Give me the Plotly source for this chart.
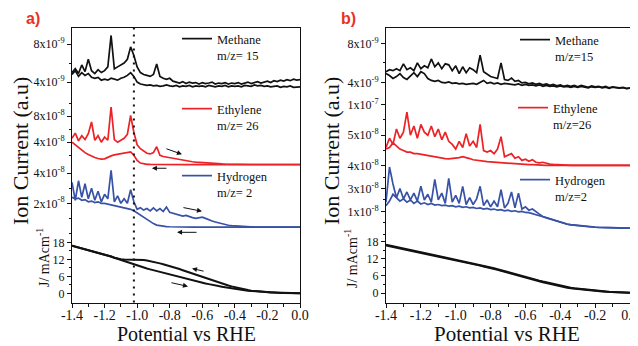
import plotly.graph_objects as go

# ---------------- data ----------------
potential_v = [-1.40, -1.38, -1.36, -1.34, -1.32, -1.30, -1.28, -1.26, -1.24, -1.22,
               -1.20, -1.18, -1.16, -1.14, -1.12, -1.10, -1.08, -1.06, -1.04, -1.02,
               -1.00, -0.98, -0.96, -0.94, -0.92, -0.90, -0.88, -0.86, -0.84, -0.82,
               -0.80, -0.78, -0.76, -0.74, -0.72, -0.70, -0.68, -0.66, -0.64, -0.62,
               -0.60, -0.58, -0.56, -0.54, -0.52, -0.50, -0.48, -0.46, -0.44, -0.42,
               -0.40, -0.38, -0.36, -0.34, -0.32, -0.30, -0.28, -0.26, -0.24, -0.22,
               -0.20, -0.18, -0.16, -0.14, -0.12, -0.10, -0.08, -0.06, -0.04, -0.02,
               0.00]

# panel a  (methane in 1e-9, ethylene / hydrogen in 1e-8, J in mA cm^-2)
methane_a_anodic = [5.0, 5.4, 4.9, 5.8, 5.1, 6.4, 5.2, 4.9, 5.3, 5.0,
                    5.2, 5.6, 8.9, 5.4, 5.6, 5.8, 6.0, 6.4, 7.7, 6.8,
                    5.6, 5.0, 4.8, 4.7, 4.6, 4.8, 5.9, 4.6, 4.4, 4.3,
                    4.4, 4.1, 4.0, 3.9, 4.05, 3.85, 4.0, 3.9, 3.95, 3.8,
                    3.95, 3.85, 3.9, 4.0, 3.8, 3.9, 3.85, 3.95, 3.8, 3.9,
                    3.85, 3.95, 3.8, 3.9, 4.0, 3.85, 3.95, 4.05, 3.9, 4.0,
                    4.1, 3.95, 4.15, 4.05, 4.2, 4.1, 4.25, 4.15, 4.3, 4.2,
                    4.25]
methane_a_cathodic = [4.8, 5.2, 4.6, 5.0, 4.7, 4.9, 4.5, 4.4, 4.5, 4.2,
                      4.3, 4.2, 4.4, 4.3, 4.2, 4.4, 4.5, 4.7, 5.0, 4.6,
                      4.0, 3.8, 3.7, 3.65, 3.7, 3.6, 3.65, 3.55, 3.6, 3.7,
                      3.6, 3.55, 3.65, 3.5, 3.6, 3.55, 3.65, 3.5, 3.6, 3.55,
                      3.6, 3.5, 3.65, 3.55, 3.5, 3.6, 3.55, 3.65, 3.5, 3.6,
                      3.55, 3.6, 3.5, 3.65, 3.6, 3.55, 3.7, 3.6, 3.65, 3.55,
                      3.6, 3.5, 3.55, 3.6, 3.45, 3.55, 3.5, 3.6, 3.45, 3.5,
                      3.5]
ethylene_a_anodic = [4.6, 5.4, 4.2, 5.0, 4.4, 5.3, 7.1, 4.3, 5.0, 4.0,
                     4.8, 4.3, 9.4, 4.4, 4.0, 4.3, 4.6, 5.2, 8.1, 5.5,
                     3.6, 3.0, 2.6, 2.3, 2.2, 2.4, 3.3, 2.0, 1.8, 1.7,
                     1.6, 1.5, 1.4, 1.3, 1.2, 1.15, 1.1, 1.0, 0.95, 0.9,
                     0.85, 0.8, 0.77, 0.74, 0.71, 0.68, 0.66, 0.64, 0.62, 0.61,
                     0.6, 0.59, 0.59, 0.58, 0.58, 0.58, 0.58, 0.58, 0.58, 0.58,
                     0.58, 0.58, 0.58, 0.58, 0.58, 0.58, 0.58, 0.58, 0.58, 0.58,
                     0.58]
ethylene_a_cathodic = [4.0, 3.6, 3.1, 2.7, 2.4, 2.1, 1.85, 1.65, 1.5, 1.4,
                       1.45, 1.7, 1.9, 2.05, 2.15, 2.25, 2.35, 2.45, 2.5, 2.0,
                       1.2, 0.8, 0.66, 0.61, 0.59, 0.58, 0.58, 0.57, 0.57, 0.57,
                       0.57, 0.57, 0.57, 0.57, 0.57, 0.57, 0.57, 0.57, 0.57, 0.57,
                       0.57, 0.57, 0.57, 0.57, 0.57, 0.57, 0.57, 0.57, 0.57, 0.57,
                       0.57, 0.57, 0.57, 0.57, 0.57, 0.57, 0.57, 0.57, 0.57, 0.57,
                       0.57, 0.57, 0.57, 0.57, 0.57, 0.57, 0.57, 0.57, 0.57, 0.57,
                       0.57]
hydrogen_a_anodic = [3.4, 2.2, 3.5, 2.4, 3.3, 2.3, 3.0, 2.2, 2.8, 2.1,
                     2.6, 2.3, 4.2, 2.1, 2.5, 2.0, 2.3, 2.0, 2.9, 2.1,
                     1.6, 1.7, 1.55, 1.65, 1.5, 1.7, 1.5, 1.65, 1.45, 1.75,
                     1.4, 1.35, 1.25, 1.2, 1.15, 1.2, 1.1, 1.05, 1.0, 1.05,
                     1.08, 1.0, 0.9, 0.82, 0.76, 0.7, 0.64, 0.58, 0.54, 0.52,
                     0.5, 0.48, 0.46, 0.44, 0.43, 0.42, 0.42, 0.42, 0.42, 0.42,
                     0.42, 0.42, 0.42, 0.42, 0.42, 0.42, 0.42, 0.42, 0.42, 0.42,
                     0.42]
hydrogen_a_cathodic = [2.4, 2.3, 2.35, 2.2, 2.25, 2.1, 2.15, 2.05, 2.1, 2.0,
                       2.0, 1.95, 1.95, 1.9, 1.85, 1.8, 1.75, 1.7, 1.6, 1.5,
                       1.35, 1.2, 1.05, 0.9, 0.78, 0.65, 0.55, 0.5, 0.47, 0.45,
                       0.44, 0.43, 0.42, 0.42, 0.42, 0.42, 0.42, 0.42, 0.42, 0.42,
                       0.42, 0.42, 0.42, 0.42, 0.42, 0.42, 0.42, 0.42, 0.42, 0.42,
                       0.42, 0.42, 0.42, 0.42, 0.42, 0.42, 0.42, 0.42, 0.42, 0.42,
                       0.42, 0.42, 0.42, 0.42, 0.42, 0.42, 0.42, 0.42, 0.42, 0.42,
                       0.42]
current_a_cathodic = [16.8, 16.5, 16.2, 15.9, 15.6, 15.3, 15.0, 14.7, 14.4, 14.1,
                      13.8, 13.4, 13.0, 12.6, 12.2, 11.8, 11.4, 11.0, 10.6, 10.2,
                      9.9, 9.5, 9.2, 8.8, 8.5, 8.2, 7.8, 7.5, 7.2, 6.9,
                      6.6, 6.3, 6.0, 5.7, 5.4, 5.1, 4.8, 4.6, 4.3, 4.0,
                      3.8, 3.5, 3.3, 3.0, 2.8, 2.6, 2.4, 2.2, 2.0, 1.8,
                      1.6, 1.45, 1.3, 1.15, 1.0, 0.9, 0.8, 0.7, 0.6, 0.5,
                      0.4, 0.35, 0.3, 0.25, 0.2, 0.18, 0.15, 0.13, 0.12, 0.11,
                      0.1]
current_a_anodic = [16.8, 16.5, 16.2, 15.9, 15.6, 15.3, 15.0, 14.7, 14.4, 14.1,
                    13.8, 13.4, 13.0, 12.6, 12.3, 12.1, 12.0, 12.0, 12.0, 12.0,
                    12.0, 11.9, 11.8, 11.6, 11.4, 11.2, 10.9, 10.6, 10.3, 10.0,
                    9.7, 9.3, 9.0, 8.6, 8.2, 7.8, 7.4, 7.0, 6.6, 6.2,
                    5.8, 5.4, 5.0, 4.6, 4.2, 3.8, 3.4, 3.1, 2.8, 2.5,
                    2.2, 1.9, 1.65, 1.4, 1.2, 1.0, 0.85, 0.7, 0.6, 0.5,
                    0.4, 0.35, 0.3, 0.25, 0.2, 0.18, 0.15, 0.13, 0.12, 0.11,
                    0.1]

# panel b
methane_b_anodic = [5.1, 5.3, 5.2, 5.4, 5.2, 5.9, 5.3, 5.5, 5.2, 6.0,
                    5.4, 5.7, 5.5, 6.4, 5.6, 6.0, 5.4, 5.9, 5.8, 5.2,
                    5.7, 4.9, 5.6, 5.0, 5.5, 5.3, 5.0, 6.8, 5.1, 4.8,
                    4.6, 4.5, 4.4, 6.0, 4.3, 4.2, 4.45, 4.1, 4.2, 3.95,
                    4.0, 3.85, 3.95, 3.8, 3.9, 3.75, 3.85, 3.7, 3.8, 3.65,
                    3.75, 3.6, 3.7, 3.6, 3.7, 3.55, 3.7, 3.6, 3.5, 3.65,
                    3.55, 3.6, 3.5, 3.6, 3.45, 3.55, 3.5, 3.45, 3.5, 3.4,
                    3.45]
methane_b_cathodic = [4.9, 4.7, 4.4, 4.6, 4.9, 4.5, 4.3, 4.7, 5.0, 4.6,
                      5.1, 4.9, 4.4, 4.2, 4.1, 4.2, 4.0, 3.95, 4.05, 3.9,
                      3.95, 3.85, 3.9, 3.8, 3.85, 3.9, 3.8, 4.0, 4.2, 3.9,
                      4.0, 3.85, 3.95, 3.8, 3.9, 3.85, 3.8, 3.75, 3.85, 3.7,
                      3.8, 3.7, 3.75, 3.65, 3.75, 3.6, 3.7, 3.6, 3.65, 3.55,
                      3.65, 3.55, 3.6, 3.5, 3.6, 3.5, 3.6, 3.5, 3.45, 3.55,
                      3.5, 3.55, 3.45, 3.5, 3.4, 3.5, 3.45, 3.4, 3.45, 3.35,
                      3.4]
ethylene_b_anodic = [4.6, 4.9, 4.7, 5.2, 4.9, 5.1, 5.75, 5.0, 5.3, 4.9,
                     5.35, 5.1, 5.0, 5.3, 4.95, 5.2, 4.85, 5.1, 4.8, 4.7,
                     4.55, 4.8, 4.6, 5.05, 4.65, 4.8, 4.6, 5.35, 4.5, 4.45,
                     4.5, 4.4, 4.55, 4.95, 4.3, 4.35, 4.4, 4.25, 4.3, 4.18,
                     4.22, 4.15, 4.2, 4.12, 4.1, 4.12, 4.08, 4.06, 4.05, 4.04,
                     4.04, 4.03, 4.03, 4.02, 4.02, 4.02, 4.02, 4.02, 4.02, 4.02,
                     4.02, 4.02, 4.02, 4.02, 4.02, 4.02, 4.02, 4.02, 4.02, 4.02,
                     4.02]
ethylene_b_cathodic = [4.55, 4.6, 4.75, 4.65, 4.55, 4.5, 4.45, 4.45, 4.4, 4.4,
                       4.38, 4.35, 4.32, 4.3, 4.28, 4.26, 4.25, 4.24, 4.23, 4.24,
                       4.25, 4.27, 4.3, 4.28, 4.24, 4.2, 4.18, 4.16, 4.15, 4.14,
                       4.13, 4.12, 4.11, 4.1, 4.1, 4.09, 4.08, 4.07, 4.06, 4.05,
                       4.05, 4.04, 4.04, 4.03, 4.03, 4.03, 4.02, 4.02, 4.02, 4.02,
                       4.02, 4.02, 4.02, 4.02, 4.02, 4.02, 4.02, 4.02, 4.02, 4.02,
                       4.02, 4.02, 4.02, 4.02, 4.02, 4.02, 4.02, 4.02, 4.02, 4.02,
                       4.02]
hydrogen_b_anodic = [1.8, 4.9, 3.4, 2.2, 3.0, 2.1, 2.7, 2.0, 2.6, 1.9,
                     3.2, 2.0, 2.5, 1.8, 3.8, 2.0, 2.6, 1.7, 3.9, 1.8,
                     2.4, 1.7, 3.2, 1.6, 2.2, 1.6, 2.1, 3.2, 1.5, 2.0,
                     1.4, 1.9, 1.4, 2.9, 1.3, 1.7, 2.7, 1.3, 2.6, 1.2,
                     1.4, 1.1, 1.2, 0.95, 0.75, 0.55, 0.45, 0.35, 0.25, 0.15,
                     0.05, -0.05, -0.12, -0.17, -0.21, -0.25, -0.29, -0.32, -0.35, -0.37,
                     -0.39, -0.41, -0.42, -0.43, -0.44, -0.45, -0.46, -0.46, -0.47, -0.47,
                     -0.47]
hydrogen_b_cathodic = [1.5, 1.9, 2.5, 2.2, 1.9, 2.1, 1.8, 2.0, 1.7, 1.9,
                       1.65, 1.75, 1.6, 1.7, 1.55, 1.6, 1.5, 1.55, 1.45, 1.5,
                       1.4, 1.45, 1.35, 1.4, 1.3, 1.35, 1.25, 1.3, 1.2, 1.25,
                       1.15, 1.2, 1.1, 1.15, 1.05, 1.1, 1.0, 1.05, 0.95, 1.0,
                       0.9, 0.88, 0.8, 0.72, 0.65, 0.52, 0.42, 0.32, 0.22, 0.12,
                       0.02, -0.07, -0.14, -0.19, -0.23, -0.27, -0.3, -0.34, -0.36, -0.38,
                       -0.4, -0.42, -0.43, -0.44, -0.45, -0.46, -0.46, -0.47, -0.47, -0.48,
                       -0.48]
current_b_cathodic = [16.6, 16.35, 16.1, 15.8, 15.55, 15.3, 15.05, 14.8, 14.5, 14.25,
                      14.0, 13.75, 13.5, 13.2, 12.95, 12.7, 12.45, 12.2, 11.9, 11.65,
                      11.4, 11.15, 10.9, 10.6, 10.35, 10.1, 9.85, 9.6, 9.3, 9.05,
                      8.8, 8.45, 8.1, 7.75, 7.4, 7.05, 6.7, 6.35, 6.0, 5.65,
                      5.3, 5.0, 4.7, 4.4, 4.1, 3.8, 3.5, 3.2, 2.9, 2.6,
                      2.3, 2.1, 1.9, 1.7, 1.55, 1.4, 1.25, 1.1, 1.0, 0.9,
                      0.8, 0.7, 0.6, 0.5, 0.42, 0.35, 0.28, 0.22, 0.17, 0.13,
                      0.1]
current_b_anodic = [16.9, 16.6, 16.3, 16.05, 15.8, 15.55, 15.3, 15.05, 14.8, 14.5,
                    14.25, 14.0, 13.75, 13.45, 13.2, 12.95, 12.7, 12.45, 12.15, 11.9,
                    11.65, 11.4, 11.15, 10.85, 10.6, 10.35, 10.1, 9.85, 9.55, 9.3,
                    9.05, 8.7, 8.35, 8.0, 7.65, 7.3, 6.95, 6.6, 6.25, 5.9,
                    5.55, 5.25, 4.95, 4.65, 4.35, 4.05, 3.75, 3.45, 3.15, 2.85,
                    2.55, 2.3, 2.1, 1.9, 1.7, 1.55, 1.4, 1.25, 1.1, 1.0,
                    0.85, 0.75, 0.65, 0.55, 0.45, 0.37, 0.3, 0.23, 0.18, 0.13,
                    0.1]

species_names = ["Methane", "Ethylene", "Hydrogen"]
mz_labels_a = ["m/z= 15", "m/z= 26", "m/z= 2"]
mz_labels_b = ["m/z=15", "m/z=26", "m/z=2"]

x_tick_vals = [-1.4, -1.2, -1.0, -0.8, -0.6, -0.4, -0.2, 0.0]
x_tick_text = ["-1.4", "-1.2", "-1.0", "-0.8", "-0.6", "-0.4", "-0.2", "0.0"]
x_minor_vals = [-1.3, -1.1, -0.9, -0.7, -0.5, -0.3, -0.1]
j_tick_vals = [0, 6, 12, 18]
j_tick_text = ["0", "6", "12", "18"]
j_minor_vals = [3, 9, 15]

methane_ticks_a = ([4, 8], ["4x10<sup>-9</sup>", "8x10<sup>-9</sup>"], [6])
ethylene_ticks_a = ([4, 8], ["4x10<sup>-8</sup>", "8x10<sup>-8</sup>"], [2, 6, 10])
hydrogen_ticks_a = ([2, 4], ["2x10<sup>-8</sup>", "4x10<sup>-8</sup>"], [0, 1, 3])
methane_ticks_b = ([4, 8], ["4x10<sup>-9</sup>", "8x10<sup>-9</sup>"], [6])
ethylene_ticks_b = ([4, 5, 6], ["4x10<sup>-8</sup>", "5x10<sup>-8</sup>", "1x10<sup>-7</sup>"], [4.5, 5.5])
hydrogen_ticks_b = ([1, 3], ["1x10<sup>-8</sup>", "3x10<sup>-8</sup>"], [-1, 0, 2, 4])

marker_potential = -1.02

# ---------------- style ----------------
OFF = 8                      # default page body margin
W, H = 630, 338
BLACK = "#111111"
RED = "#EC2227"
BLUE = "#3752A6"
SERIF = "Liberation Serif, Times New Roman, serif"
frame_top, frame_bot = 28, 302.5


def fx(p):
    return (p - OFF) / W


def fy(p):
    return 1 - (p - OFF) / H


ydom = [fy(frame_bot), fy(frame_top)]

fig = go.Figure()

panels = [
    dict(x="x", ys=["y", "y2", "y3", "y4"], leg=["legend", "legend2", "legend3"],
         data=[(methane_a_anodic, methane_a_cathodic), (ethylene_a_anodic, ethylene_a_cathodic),
               (hydrogen_a_anodic, hydrogen_a_cathodic)],
         J=(current_a_anodic, current_a_cathodic), mz=mz_labels_a),
    dict(x="x2", ys=["y5", "y6", "y7", "y8"], leg=["legend4", "legend5", "legend6"],
         data=[(methane_b_anodic, methane_b_cathodic), (ethylene_b_anodic, ethylene_b_cathodic),
               (hydrogen_b_anodic, hydrogen_b_cathodic)],
         J=(current_b_anodic, current_b_cathodic), mz=mz_labels_b),
]
colors = [BLACK, RED, BLUE]

for p in panels:
    for branch in p["J"]:
        fig.add_trace(go.Scatter(x=potential_v, y=branch, mode="lines", xaxis=p["x"], yaxis=p["ys"][0],
                                 line=dict(color=BLACK, width=2), showlegend=False, hoverinfo="skip"))
    for k in range(3):
        up, dn = p["data"][k]
        name = species_names[k] + "<br>" + p["mz"][k]
        fig.add_trace(go.Scatter(x=potential_v, y=dn, mode="lines", xaxis=p["x"], yaxis=p["ys"][k + 1],
                                 line=dict(color=colors[k], width=1.7), showlegend=False, legendgroup=name))
        fig.add_trace(go.Scatter(x=potential_v, y=up, mode="lines", xaxis=p["x"], yaxis=p["ys"][k + 1],
                                 line=dict(color=colors[k], width=1.7), name=name, showlegend=True,
                                 legend=p["leg"][k], legendgroup=name))

common_tick = dict(ticks="outside", ticklen=4, tickwidth=1, tickcolor=BLACK,
                   showgrid=False, zeroline=False, automargin=False,
                   tickfont=dict(family=SERIF, size=12, color=BLACK))


def yaxis(rng, ticks, frame, anchor, overlay=None):
    d = dict(domain=ydom, range=rng, anchor=anchor, tickmode="array", tickvals=ticks[0], ticktext=ticks[1],
             minor=dict(tickmode="array", tickvals=ticks[2], ticks="outside", ticklen=2, tickcolor=BLACK),
             showline=frame, mirror=frame, linecolor=BLACK, linewidth=1.2, side="left", **common_tick)
    if overlay:
        d["overlaying"] = overlay
    return d


def xaxis(dom, anchor, size):
    d = dict(domain=dom, range=[-1.4, 0.0], anchor=anchor, tickmode="array", tickvals=x_tick_vals,
             ticktext=x_tick_text, ticklabeloverflow="allow", ticklabelstandoff=-4,
             minor=dict(tickmode="array", tickvals=x_minor_vals, ticks="outside", ticklen=3, tickcolor=BLACK),
             showline=True, mirror=True, linecolor=BLACK, linewidth=1.2, **common_tick)
    d["tickfont"] = dict(family=SERIF, size=size, color=BLACK)
    return d


fig.update_layout(
    xaxis=xaxis([fx(72), fx(300)], "y", 14),
    xaxis2=xaxis([fx(386), fx(630)], "y5", 14),
    yaxis=yaxis([-3.18, 93.53], (j_tick_vals, j_tick_text, j_minor_vals), True, "x"),
    yaxis2=yaxis([-19.16, 9.684], methane_ticks_a, False, "x", "y"),
    yaxis3=yaxis([-20.615, 21.538], ethylene_ticks_a, False, "x", "y"),
    yaxis4=yaxis([-4.6, 13.667], hydrogen_ticks_a, False, "x", "y"),
    yaxis5=yaxis([-3.28, 92.54], (j_tick_vals, j_tick_text, j_minor_vals), True, "x2"),
    yaxis6=yaxis([-18.533, 9.569], methane_ticks_b, False, "x2", "y5"),
    yaxis7=yaxis([-0.44, 8.485], ethylene_ticks_b, False, "x2", "y5"),
    yaxis8=yaxis([-7.018, 17.123], hydrogen_ticks_b, False, "x2", "y5"),
)

# legends
leg_pos = {"legend": (177, 24), "legend2": (177, 94), "legend3": (177, 161),
           "legend4": (515, 25), "legend5": (513, 93), "legend6": (515, 165)}
for key, (lx, ly) in leg_pos.items():
    fig.update_layout({key: dict(x=fx(lx), y=fy(ly), xanchor="left", yanchor="top",
                                 bgcolor="rgba(0,0,0,0)", borderwidth=0, valign="top",
                                 font=dict(family=SERIF, size=12.5, color=BLACK),
                                 tracegroupgap=0, itemclick=False)})

ann = []
centered = dict(xref="paper", yref="paper", showarrow=False, xanchor="center", yanchor="middle")
# panel letters
ann.append(dict(text="<b>a)</b>", x=fx(33), y=fy(18),
                font=dict(family="Liberation Sans, Arial", size=16, color="#E8302A"), **centered))
ann.append(dict(text="<b>b)</b>", x=fx(348), y=fy(18),
                font=dict(family="Liberation Sans, Arial", size=16, color="#E8302A"), **centered))
# axis titles
for cx, sz in [(20, 22), (331, 22)]:
    ann.append(dict(text="Ion Current (a.u)", x=fx(cx), y=fy(151), textangle=-90,
                    font=dict(family=SERIF, size=sz, color=BLACK), **centered))
for cx in [43, 351]:
    ann.append(dict(text="J/ mAcm<sup>-1</sup>", x=fx(cx), y=fy(258), textangle=-90,
                    font=dict(family=SERIF, size=14, color=BLACK), **centered))
for cx, sz in [(186, 20), (507, 21)]:
    ann.append(dict(text="Potential vs RHE", x=fx(cx), y=fy(334),
                    font=dict(family=SERIF, size=sz, color=BLACK), **centered))

# scan direction arrows (panel a)
arrow_style = dict(showarrow=True, arrowhead=2, arrowsize=1, arrowwidth=1, arrowcolor=BLACK,
                   axref="pixel", ayref="pixel", text="")
ann.append(dict(x=-0.725, y=2.15, xref="x", yref="y3", ax=-17, ay=-6, **arrow_style))
ann.append(dict(x=-0.909, y=0.0, xref="x", yref="y3", ax=16, ay=0, **arrow_style))
ann.append(dict(x=-0.602, y=1.47, xref="x", yref="y4", ax=-20, ay=-4, **arrow_style))
ann.append(dict(x=-0.755, y=0.07, xref="x", yref="y4", ax=21, ay=0, **arrow_style))
ann.append(dict(x=-0.663, y=8.8, xref="x", yref="y", ax=13, ay=3, **arrow_style))
ann.append(dict(x=-0.688, y=2.5, xref="x", yref="y", ax=-18, ay=-4, **arrow_style))

fig.update_layout(
    annotations=ann,
    shapes=[dict(type="line", xref="x", yref="paper", x0=marker_potential, x1=marker_potential,
                 y0=ydom[0], y1=ydom[1], line=dict(color=BLACK, width=2, dash="2px,5px"))],
    width=W, height=H, margin=dict(l=0, r=0, t=0, b=0, autoexpand=False),
    paper_bgcolor="white", plot_bgcolor="white",
)

fig.write_html("out.html")
